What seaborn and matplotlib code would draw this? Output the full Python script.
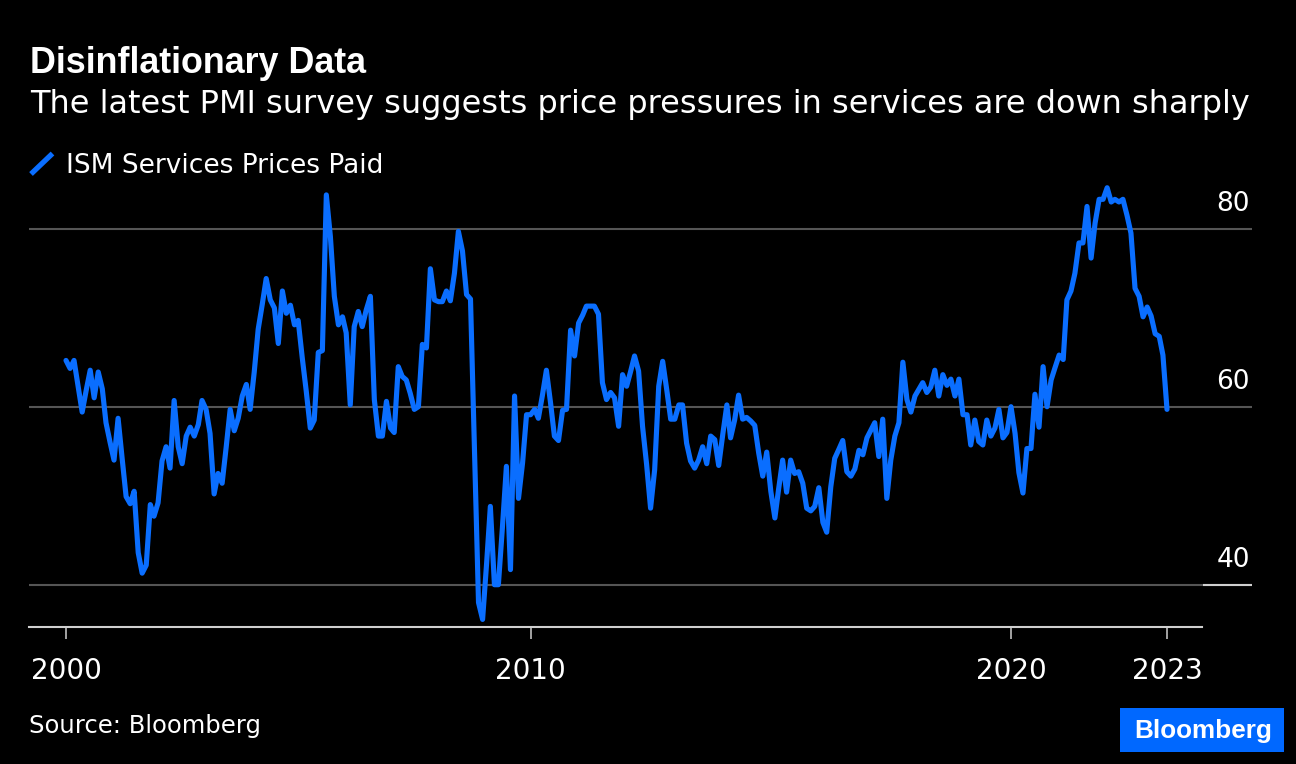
import numpy as np
import pandas as pd
import matplotlib
matplotlib.use("Agg")
import matplotlib.pyplot as plt
import matplotlib.dates as mdates
import seaborn as sns
from matplotlib.transforms import blended_transform_factory, ScaledTranslation
from matplotlib.lines import Line2D
from matplotlib.patches import Rectangle

# ---------------- data (ISM Services Prices Paid, monthly, Apr 2000 - Mar 2023) ----------------
p2000 = [65.2, 64.3, 65.2, 62.3, 59.4, 61.8, 64.1, 61.0, 63.9]  # Apr-Dec
p2001 = [62.0, 58.2, 56.0, 54.0, 58.7, 54.3, 49.9, 49.1, 50.5, 43.6, 41.3, 42.2]
p2002 = [49.0, 47.7, 49.2, 53.9, 55.5, 53.1, 60.7, 55.5, 53.6, 56.7, 57.7, 56.7]
p2003 = [58.0, 60.7, 59.7, 57.0, 50.2, 52.5, 51.4, 55.5, 59.7, 57.3, 58.7, 61.2]
p2004 = [62.5, 59.7, 63.9, 68.7, 71.5, 74.4, 72.0, 71.1, 67.1, 73.0, 70.5, 71.4]
p2005 = [69.2, 69.7, 65.5, 61.8, 57.6, 58.5, 66.1, 66.3, 83.8, 79.1, 72.4, 69.2]
p2006 = [70.1, 68.3, 60.2, 69.0, 70.7, 69.0, 70.9, 72.4, 60.8, 56.7, 56.7, 60.6]
p2007 = [57.6, 57.1, 64.5, 63.4, 63.0, 61.5, 59.7, 60.0, 67.0, 66.6, 75.5, 72.0]
p2008 = [71.8, 71.8, 73.0, 71.9, 75.0, 79.7, 77.5, 72.6, 72.1, 55.0, 38.0, 36.1]
p2009 = [42.5, 48.8, 40.0, 40.0, 46.5, 53.3, 41.7, 61.2, 49.7, 53.7, 59.1, 59.1]
p2010 = [59.7, 58.7, 61.3, 64.1, 60.5, 56.7, 56.2, 59.6, 59.7, 68.6, 65.7, 69.4]
p2011 = [70.3, 71.3, 71.3, 71.3, 70.4, 62.7, 60.8, 61.6, 61.0, 57.8, 63.6, 62.3]
p2012 = [64.0, 65.7, 64.0, 57.8, 53.5, 48.6, 52.9, 62.3, 65.1, 61.9, 58.6, 58.6]
p2013 = [60.2, 60.2, 55.9, 53.9, 53.1, 54.0, 55.5, 53.6, 56.7, 56.3, 53.4, 56.9]
p2014 = [60.2, 56.5, 58.5, 61.3, 58.6, 58.8, 58.4, 57.9, 54.8, 52.2, 54.9, 50.5]
p2015 = [47.5, 50.7, 54.0, 50.4, 54.0, 52.5, 52.7, 51.4, 48.6, 48.3, 48.8, 50.9]
p2016 = [47.0, 45.9, 51.0, 54.2, 55.2, 56.2, 52.7, 52.2, 53.0, 55.1, 54.6, 56.5]
p2017 = [57.4, 58.2, 54.4, 58.6, 49.7, 54.0, 56.7, 58.2, 65.0, 60.8, 59.4, 61.2]
p2018 = [62.0, 62.7, 61.6, 62.2, 64.1, 61.2, 63.6, 62.4, 63.1, 61.2, 63.1, 59.1]
p2019 = [59.1, 55.7, 58.5, 56.1, 55.7, 58.5, 56.7, 57.6, 59.7, 56.5, 57.1, 60.0]
p2020 = [57.0, 52.6, 50.3, 55.3, 55.3, 61.4, 57.7, 64.5, 60.0, 63.0, 64.4, 65.8]
p2021 = [65.3, 72.0, 73.0, 75.0, 78.4, 78.4, 82.5, 76.7, 80.6, 83.3, 83.3, 84.6]
p2022 = [83.0, 83.3, 83.0, 83.3, 81.5, 79.5, 73.3, 72.4, 70.1, 71.2, 70.2, 68.2]
p2023 = [67.9, 65.8, 59.7]  # Jan-Mar

prices = (p2000 + p2001 + p2002 + p2003 + p2004 + p2005 + p2006 + p2007 + p2008
          + p2009 + p2010 + p2011 + p2012 + p2013 + p2014 + p2015 + p2016 + p2017
          + p2018 + p2019 + p2020 + p2021 + p2022 + p2023)
dates = pd.date_range("2000-04-30", periods=len(prices), freq=pd.offsets.MonthEnd())
df = pd.DataFrame({"date": dates, "value": prices})

y_ticks = [40, 60, 80]
x_tick_dates = [dates[0], pd.Timestamp("2010-01-01"), pd.Timestamp("2020-01-01"), dates[-1]]
x_tick_labels = ["2000", "2010", "2020", "2023"]

title = "Disinflationary Data"
subtitle = "The latest PMI survey suggests price pressures in services are down sharply"
legend_label = "ISM Services Prices Paid"
source = "Source: Bloomberg"

# ---------------- style ----------------
LINE = "#0a6eff"
GRID = "#555555"
AXIS = "#cfcfcf"
sns.set_style("dark", {"axes.facecolor": "black", "figure.facecolor": "black"})
plt.rcParams["font.family"] = ["DejaVu Sans"]
BOLD_FAMILY = ["Liberation Sans", "DejaVu Sans"]

W, H = 1296, 764
fig = plt.figure(figsize=(W / 100, H / 100), dpi=100, facecolor="black")
ax_left, ax_right, ax_top, ax_bottom = 29, 1252, 180, 627
ax = fig.add_axes([ax_left / W, (H - ax_bottom) / H, (ax_right - ax_left) / W, (ax_bottom - ax_top) / H])
ax.set_facecolor("black")

for v in y_ticks:
    ax.axhline(v, color=GRID, lw=1.5, zorder=1)

sns.lineplot(data=df, x="date", y="value", ax=ax, color=LINE, linewidth=3.7,
             solid_capstyle="round", solid_joinstyle="round", zorder=3)

# axis scales
ax.set_ylim(35.25, 85.47)
d0 = mdates.date2num(dates[0])
d1 = mdates.date2num(dates[-1])
px_per_day = (1167 - 66) / (d1 - d0)
ax.set_xlim(d0 - (66 - ax_left) / px_per_day, d1 + (ax_right - 1167) / px_per_day)

ax.set_xticks([mdates.date2num(d) for d in x_tick_dates])
ax.set_xticklabels(x_tick_labels)
ax.tick_params(axis="x", bottom=True, direction="out", length=8.6, width=1.1, color=AXIS,
               labelcolor="white", labelsize=20, pad=13)
ax.tick_params(axis="y", left=False, right=False, labelleft=False, labelright=False)
ax.set_xlabel("")
ax.set_ylabel("")
ax.grid(False)
for s in ["top", "left", "right"]:
    ax.spines[s].set_visible(False)
ax.spines["bottom"].set_color(AXIS)
ax.spines["bottom"].set_linewidth(1.5)
ax.spines["bottom"].set_bounds(ax.get_xlim()[0], d1 + (1202 - 1167) / px_per_day)

# light marker segment on the 40 line at the right
ax.plot([(1203 - ax_left) / (ax_right - ax_left), 1.0], [40, 40], color=AXIS, lw=1.5,
        transform=blended_transform_factory(ax.transAxes, ax.transData), zorder=2, solid_capstyle="butt")

# y labels (right, above gridlines)
ylab_tr = blended_transform_factory(ax.transAxes, ax.transData) + ScaledTranslation(0, 18 / 100, fig.dpi_scale_trans)
for v in y_ticks:
    ax.text(1.0 - 2 / (ax_right - ax_left), v, str(v), transform=ylab_tr, ha="right", va="baseline",
            color="white", fontsize=19)

# titles
fig.text(30 / W, 1 - 73.3 / H, title, color="white", fontsize=25.8, fontweight="bold",
         family=BOLD_FAMILY, va="baseline", ha="left")
fig.text(30 / W, 1 - 112.7 / H, subtitle, color="white", fontsize=23, va="baseline", ha="left")

# legend
fig.add_artist(Line2D([31 / W, 52.5 / W], [1 - 174 / H, 1 - 153.5 / H], color=LINE, lw=3.8,
                      solid_capstyle="butt", transform=fig.transFigure))
fig.text(66.5 / W, 1 - 173.3 / H, legend_label, color="white", fontsize=19, va="baseline", ha="left")

# source and logo
fig.text(29 / W, 1 - 733 / H, source, color="white", fontsize=17.5, va="baseline", ha="left")
fig.add_artist(Rectangle((1120 / W, 1 - 751.7 / H), 164 / W, 43.4 / H, transform=fig.transFigure,
                         facecolor="#0068ff", edgecolor="none"))
fig.text(1203 / W, 1 - 737.7 / H, "Bloomberg", color="white", fontsize=18.8, fontweight="bold",
         family=BOLD_FAMILY, va="baseline", ha="center")

fig.savefig("out.png", dpi=100, facecolor="black")
